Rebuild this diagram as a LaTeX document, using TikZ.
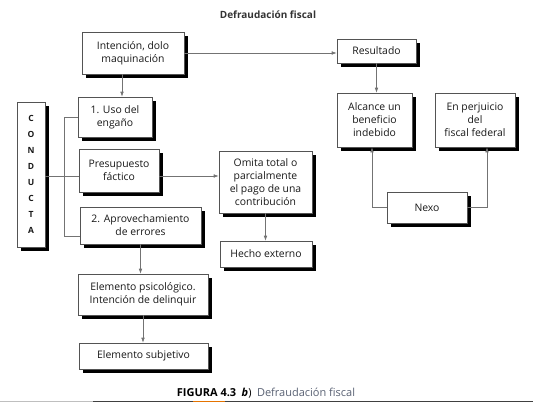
\documentclass[tikz,border=0pt]{standalone}
\usepackage{fontspec}
\setmainfont{Open Sans}
\usepackage{tikz}
\usetikzlibrary{arrows.meta,positioning,shadows}
\definecolor{boxgray}{rgb}{0.33,0.33,0.33}
\definecolor{linegray}{rgb}{0.45,0.45,0.45}
\definecolor{capblue}{rgb}{0.35,0.38,0.45}

\begin{document}
\begin{tikzpicture}[x=1pt,y=-1pt,>={Latex[length=5pt,width=3.6pt]},
  caja/.style={draw=boxgray,fill=white,line width=0.6pt,align=center,inner sep=1pt,
    font=\fontsize{10.4}{13}\selectfont,text=black!90,
    drop shadow={shadow xshift=4pt,shadow yshift=-4pt,fill=black,opacity=1}},
  enlace/.style={draw=linegray,line width=0.6pt}]
\useasboundingbox (0,0) rectangle (533,410);
\node[font=\fontsize{10}{12}\selectfont\bfseries,text=black!80] (titulo) at (268,15) {Defraudación fiscal};
% columna izquierda
\node[caja,minimum width=102,minimum height=42] (intencion) at (133,53) {Intención, dolo\\maquinación};
\node[caja,minimum width=74,minimum height=40] (uso) at (115,117) {1. Uso del\\engaño};
\node[caja,minimum width=28,minimum height=145,font=\fontsize{8.5}{16}\selectfont\bfseries] (conducta) at (31,174.5) {C\\O\\N\\D\\U\\C\\T\\A};
\node[caja,minimum width=80,minimum height=43] (presupuesto) at (119,170.5) {Presupuesto\\fáctico};
\node[caja,minimum width=121,minimum height=37] (aprov) at (140.5,225.5) {2. Aprovechamiento\\de errores};
\node[caja,minimum width=130,minimum height=41] (psico) at (143,294.5) {Elemento psicológico.\\Intención de delinquir};
\node[caja,minimum width=129,minimum height=26] (subjetivo) at (143.5,356) {Elemento subjetivo};
% columna central
\node[caja,minimum width=93,minimum height=62] (omita) at (265.5,182) {Omita total o\\parcialmente\\el pago de una\\contribución};
\node[caja,minimum width=92,minimum height=26] (hecho) at (266,254) {Hecho externo};
% derecha
\node[caja,minimum width=79,minimum height=24] (resultado) at (376.5,51) {Resultado};
\node[caja,minimum width=75,minimum height=54] (alcance) at (374.5,120) {Alcance un\\beneficio\\indebido};
\node[caja,minimum width=80,minimum height=54] (perjuicio) at (475,120) {En perjuicio\\del\\fiscal federal};
\node[caja,minimum width=80,minimum height=31] (nexo) at (427,207.5) {Nexo};
% conectores
\coordinate (pentrada) at ([yshift=-5.5pt]presupuesto.west);
\coordinate (psalida) at ([yshift=-5.5pt]presupuesto.east);
\draw[enlace,->] ([xshift=-11pt]intencion.south) -- ([xshift=-11pt]intencion.south |- uso.north);
\draw[enlace,->] (intencion.east) -- (intencion.east -| resultado.west);
\draw[enlace,->] (resultado.south) -- (resultado.south |- alcance.north);
\draw[enlace,->] (nexo.west) -| ([xshift=-2.5pt]alcance.south);
\draw[enlace,->] (nexo.east) -| ([xshift=12pt]perjuicio.south);
\draw[enlace] (uso.west) -- ++(-13,0) |- ([yshift=-11pt]aprov.west);
\draw[enlace] (conducta.east |- pentrada) -- (pentrada);
\draw[enlace,->] (psalida) -- (psalida -| omita.west);
\draw[enlace,->] (aprov.south) -- (aprov.south |- psico.north);
\draw[enlace,->] (omita.south) -- (omita.south |- hecho.north);
\draw[enlace,->] (psico.south) -- (psico.south |- subjetivo.north);
% pie
\node[font=\fontsize{11}{13}\selectfont] (pie) at (266,393) {{\bfseries FIGURA 4.3\enspace\textit{b}})\enspace{\color{capblue}Defraudación fiscal}};
\draw[black!25,line width=0.8pt] (0,401) -- (93,401);
\draw[black!75,line width=0.8pt] (93,401) -- (533,401);
\draw[orange!90!black,line width=0.8pt] (193,401) -- (225,401);
\end{tikzpicture}
\end{document}
